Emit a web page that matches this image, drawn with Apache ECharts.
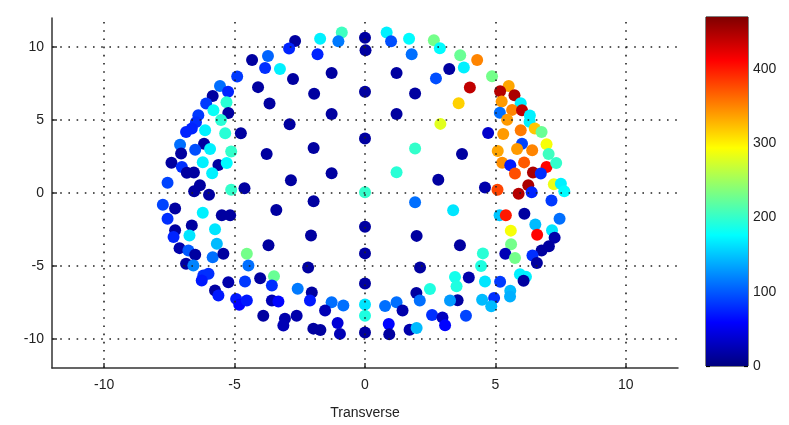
<!DOCTYPE html>
<html>
<head>
<meta charset="utf-8">
<script src="https://cdn.jsdelivr.net/npm/echarts@6/dist/echarts.min.js"></script>
<style>html,body{margin:0;padding:0;background:#fff}#c{width:789px;height:425px}</style>
</head>
<body>
<div id="c"></div>
<script>
// ---- data ----
const xTicks = [-10, -5, 0, 5, 10];
const yTicks = [-10, -5, 0, 5, 10];
const cbTicks = [0, 100, 200, 300, 400];
const cbMax = 470;
const xName = 'Transverse';

const xs = [
-2.68,-2.91,-3.72,-4.33,-3.83,-3.26,-4.90,-2.76,-4.10,-5.56,-5.25,-5.84,-3.66,-5.31,-6.09,-5.81,-5.24,-6.39,-5.52,-6.48,
-6.64,-6.86,-6.13,-5.36,-4.76,-2.89,-7.09,-6.17,-6.51,-5.94,-7.05,-5.13,-3.77,-7.42,-6.22,-7.02,-5.62,-5.30,-6.83,-6.56,
-5.86,-7.57,-6.33,-6.55,-5.98,-5.13,-4.62,-2.84,-1.28,-1.72,-0.89,-1.02,-1.82,0,0.02,0.83,1.00,1.69,1.79,2.64,
-1.28,1.21,2.72,-1.95,0,1.92,-1.28,1.21,0,-1.97,1.92,1.21,0,-1.97,2.87,3.65,4.30,3.23,3.79,4.87,
4.02,3.59,5.51,5.18,5.73,5.24,5.97,5.64,6.02,5.17,6.32,5.45,6.31,2.89,6.51,6.77,4.72,5.30,5.97,6.96,
7.04,6.02,5.83,6.41,5.09,3.72,5.26,5.57,6.10,5.75,6.96,7.33,6.44,6.74,2.81,4.60,5.08,5.89,6.26,6.39,
7.24,7.51,7.64,-7.75,-7.28,-3.40,-6.22,-5.49,-5.17,-7.57,-6.64,-5.75,-7.28,-7.34,-6.73,-3.70,-5.68,-7.11,-6.77,-6.51,
-5.84,-5.43,-4.53,-6.86,-6.58,-4.47,-6.20,-6.00,-6.26,-5.24,-4.60,-4.02,-3.49,-3.57,-5.75,-5.62,-4.94,-4.82,-4.53,-3.57,
-3.32,-3.90,-3.07,-3.13,-2.62,-2.07,1.92,0,1.98,0,-2.18,2.11,0,-2.58,-2.04,-2.11,-1.28,-0.83,-1.53,0,
0,0.77,1.21,1.44,1.97,2.10,2.49,2.57,-1.98,-1.71,-1.05,-0.96,0,0.91,0.93,1.71,1.98,7.15,3.38,5.16,
5.40,6.11,7.46,6.53,7.17,5.59,6.60,7.27,5.60,3.64,7.05,6.77,5.38,5.75,6.42,4.52,6.59,4.45,5.94,6.17,
6.08,3.45,3.98,4.60,5.18,3.51,5.57,5.56,3.55,3.26,4.49,4.95,4.84,2.97,3.07,3.87];

const ys = [
10.43,9.91,9.40,9.12,8.57,8.50,7.99,7.81,7.26,7.33,6.94,6.65,6.14,6.23,6.14,5.68,5.48,5.34,5.00,4.86,
4.43,4.19,4.31,4.10,4.10,4.72,3.31,3.38,2.97,3.02,2.71,2.85,2.68,2.08,2.11,1.79,1.92,2.06,1.39,1.41,
1.35,0.70,0.53,0.12,-0.12,0.22,0.32,0.87,1.35,10.58,11.01,10.41,9.52,10.65,9.79,11.01,10.41,10.58,9.52,10.47,
8.23,8.23,7.86,6.80,6.94,6.83,5.41,5.41,3.74,3.09,3.05,1.42,0.05,-0.57,9.92,9.44,9.12,8.50,8.60,8.00,
7.24,6.16,7.33,6.98,6.71,6.28,6.16,5.70,5.68,5.51,5.31,5.02,4.88,4.74,4.43,4.19,4.12,4.05,4.31,3.35,
2.68,3.37,3.02,2.93,2.88,2.68,2.08,1.90,2.10,1.33,1.79,2.06,1.41,1.33,0.91,0.37,0.22,-0.05,0.53,0.05,
0.60,0.63,0.12,-0.80,-1.07,-1.17,-1.35,-1.53,-1.53,-1.76,-2.22,-2.49,-2.56,-3.02,-2.91,-3.59,-3.48,-3.78,-3.94,-4.23,
-4.40,-4.16,-4.16,-4.85,-4.97,-4.97,-5.66,-5.54,-6.00,-6.12,-6.07,-5.84,-5.70,-6.34,-6.69,-7.03,-7.26,-7.67,-7.37,-7.37,
-7.44,-8.41,-8.63,-9.09,-8.41,-2.91,-0.64,-2.32,-2.94,-4.14,-5.11,-5.11,-6.21,-6.57,-6.82,-7.37,-7.49,-7.72,-8.06,-7.65,
-8.41,-7.75,-7.49,-8.06,-6.86,-7.37,-6.58,-8.37,-9.30,-9.40,-8.92,-9.66,-9.57,-8.98,-9.69,-9.38,-9.26,-0.52,-1.19,-1.53,
-1.53,-1.42,-1.76,-2.16,-2.56,-2.58,-2.87,-3.06,-3.51,-3.59,-3.65,-3.94,-4.16,-4.45,-4.28,-4.14,-4.80,-5.00,-5.57,-5.75,
-6.02,-5.76,-5.79,-6.07,-6.09,-6.40,-6.71,-7.09,-7.35,-7.37,-7.32,-7.20,-7.77,-8.54,-9.07,-8.41];

const vals = [
15,75,105,15,80,170,85,15,15,110,75,15,15,195,85,180,15,85,195,80,
75,75,170,195,15,15,110,15,95,170,15,200,15,15,170,80,15,175,15,15,
170,90,15,15,15,200,15,15,15,170,205,115,75,15,15,170,95,175,110,230,
15,15,95,15,15,15,15,15,15,15,200,195,200,15,175,225,350,15,170,230,
440,315,335,445,450,340,170,350,440,110,170,340,170,280,320,225,35,340,355,290,
205,90,340,350,335,15,345,70,370,375,410,200,450,80,15,20,380,445,450,75,
285,170,175,90,15,15,170,15,15,80,15,165,15,75,165,15,145,20,100,15,
110,15,230,15,120,110,80,80,70,20,85,15,225,80,15,70,70,60,70,25,
60,15,20,25,20,15,110,15,15,15,15,15,15,115,15,70,110,110,25,165,
190,110,110,20,15,110,190,80,15,15,40,25,15,60,15,20,145,85,165,150,
400,15,110,145,165,290,410,20,230,15,15,15,25,230,80,195,15,190,170,170,
15,185,20,165,85,190,145,140,15,130,145,80,145,30,60,90];

const jet = ['#00007F','#0000FF','#007FFF','#00FFFF','#7FFF7F','#FFFF00','#FF7F00','#FF0000','#7F0000'];

const points = xs.map((x, i) => [x, ys[i], vals[i]]);
const gridLineData = xTicks.map(v => ({ xAxis: v })).concat(yTicks.map(v => ({ yAxis: v })));

const font = 'Liberation Sans, Arial, sans-serif';
const axisColor = '#333';

const chart = echarts.init(document.getElementById('c'), null, { renderer: 'canvas' });
chart.setOption({
  backgroundColor: '#fff',
  animation: false,
  grid: [
    { left: 52, right: 111, top: 18, bottom: 57, containLabel: false },
    { left: 706, width: 42, top: 17, height: 349, show: true, borderColor: '#000', borderWidth: 1 }
  ],
  visualMap: {
    show: false, type: 'continuous', seriesIndex: 0, dimension: 2,
    min: 0, max: cbMax, inRange: { color: jet }
  },
  xAxis: [
    {
      gridIndex: 0, type: 'value', min: -12, max: 12,
      name: xName, nameLocation: 'middle', nameGap: 38,
      nameTextStyle: { color: '#222', fontSize: 14, fontFamily: font },
      axisLine: { show: true, onZero: false, lineStyle: { color: axisColor, width: 1.5 } },
      axisTick: { show: true, inside: true, length: 5, customValues: xTicks, lineStyle: { color: axisColor, width: 1.5 } },
      axisLabel: { customValues: xTicks, margin: 10, color: '#222', fontSize: 14, fontFamily: font },
      splitLine: { show: false }
    },
    {
      gridIndex: 1, type: 'category', data: ['c'], show: false
    }
  ],
  yAxis: [
    {
      gridIndex: 0, type: 'value', min: -12, max: 12,
      axisLine: { show: true, onZero: false, lineStyle: { color: axisColor, width: 1.5 } },
      axisTick: { show: true, inside: true, length: 5, customValues: yTicks, lineStyle: { color: axisColor, width: 1.5 } },
      axisLabel: { customValues: yTicks, margin: 8, color: '#222', fontSize: 14, fontFamily: font },
      splitLine: { show: false }
    },
    {
      gridIndex: 1, type: 'value', min: 0, max: cbMax, position: 'right',
      axisLine: { show: false },
      axisTick: { show: true, inside: true, length: 4, customValues: cbTicks, lineStyle: { color: '#000', width: 1.2 } },
      axisLabel: { customValues: cbTicks, margin: 5, color: '#222', fontSize: 14, fontFamily: font },
      splitLine: { show: false }
    },
    {
      gridIndex: 1, type: 'value', min: 0, max: cbMax, position: 'left',
      axisLine: { show: false },
      axisTick: { show: true, inside: true, length: 4, customValues: cbTicks, lineStyle: { color: '#000', width: 1.2 } },
      axisLabel: { show: false },
      splitLine: { show: false }
    }
  ],
  series: [
    {
      type: 'scatter', xAxisIndex: 0, yAxisIndex: 0, z: 3,
      symbol: 'circle', symbolSize: 12,
      data: points,
      itemStyle: { opacity: 1 }
    },
    {
      type: 'line', xAxisIndex: 0, yAxisIndex: 0, z: 1, data: [],
      markLine: {
        silent: true, symbol: 'none', animation: false,
        label: { show: false },
        lineStyle: { color: '#222', width: 1.6, type: [1.6, 6.6] },
        data: gridLineData
      }
    },
    {
      type: 'bar', xAxisIndex: 1, yAxisIndex: 1, z: 1, barWidth: '100%',
      data: [cbMax],
      itemStyle: {
        color: new echarts.graphic.LinearGradient(0, 1, 0, 0,
          jet.map((c, i) => ({ offset: i / (jet.length - 1), color: c })))
      }
    }
  ]
});
</script>
</body>
</html>
